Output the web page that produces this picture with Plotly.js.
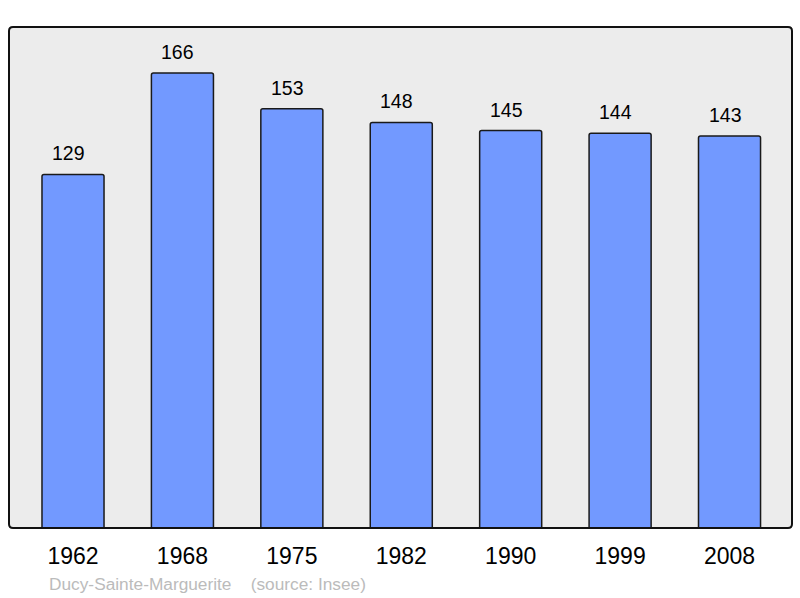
<!DOCTYPE html>
<html>
<head>
<meta charset="utf-8">
<script src="https://cdn.plot.ly/plotly-3.0.1.min.js"></script>
<style>html,body{margin:0;padding:0;background:#fff;}#chart{width:800px;height:598px;}</style>
</head>
<body>
<div id="chart"></div>
<script>
const years = ["1962", "1968", "1975", "1982", "1990", "1999", "2008"];
const population = [129, 166, 153, 148, 145, 144, 143];
const townName = "Ducy-Sainte-Marguerite";
const sourceLabel = "(source: Insee)";

const FONT = "Liberation Sans, Arial, sans-serif";

const trace = {
  type: "bar",
  x: years.map((_, i) => i),
  y: population,
  width: 0.567,
  marker: {
    color: "#7299ff",
    line: { color: "#1a1a1a", width: 1.5 },
    cornerradius: 2
  },
  hoverinfo: "none"
};

const annotations = population.map((v, i) => ({
  x: i, y: v, xref: "x", yref: "y",
  text: String(v), showarrow: false,
  yanchor: "bottom", yshift: 8, xshift: -4.5,
  font: { family: FONT, size: 19.5, color: "#000" }
}));
annotations.push({
  xref: "paper", yref: "paper", x: 38/783, y: -56/501,
  xanchor: "left", yanchor: "middle",
  text: townName + "&nbsp;&nbsp;&nbsp;&nbsp;" + sourceLabel,
  showarrow: false,
  font: { family: FONT, size: 17.3, color: "#bbbbbb" }
});

const rx = 4/783, ry = 4/501;
const borderPath = `M ${rx},0 L ${1-rx},0 Q 1,0 1,${ry} L 1,${1-ry} Q 1,1 ${1-rx},1 L ${rx},1 Q 0,1 0,${1-ry} L 0,${ry} Q 0,0 ${rx},0 Z`;

const layout = {
  width: 800, height: 598,
  margin: { l: 9, r: 8, t: 27, b: 70, pad: 0 },
  paper_bgcolor: "#ffffff",
  plot_bgcolor: "rgba(0,0,0,0)",
  showlegend: false,
  xaxis: {
    range: [-0.585, 6.571],
    tickmode: "array",
    tickvals: years.map((_, i) => i),
    ticktext: years,
    showgrid: false, zeroline: false, showline: false,
    ticks: "", ticklen: 0,
    ticklabelstandoff: 12,
    tickfont: { family: FONT, size: 23, color: "#000" },
    fixedrange: true
  },
  yaxis: {
    range: [0, 182.8],
    showgrid: false, zeroline: false, showline: false,
    showticklabels: false, ticks: "",
    fixedrange: true
  },
  shapes: [
    { type: "path", xref: "paper", yref: "paper", path: borderPath,
      fillcolor: "#ececec", line: { width: 0 }, layer: "below" },
    { type: "path", xref: "paper", yref: "paper", path: borderPath,
      fillcolor: "rgba(0,0,0,0)", line: { color: "#111", width: 2 }, layer: "above" }
  ],
  annotations: annotations
};

Plotly.newPlot("chart", [trace], layout, { displayModeBar: false, staticPlot: true });
</script>
</body>
</html>
